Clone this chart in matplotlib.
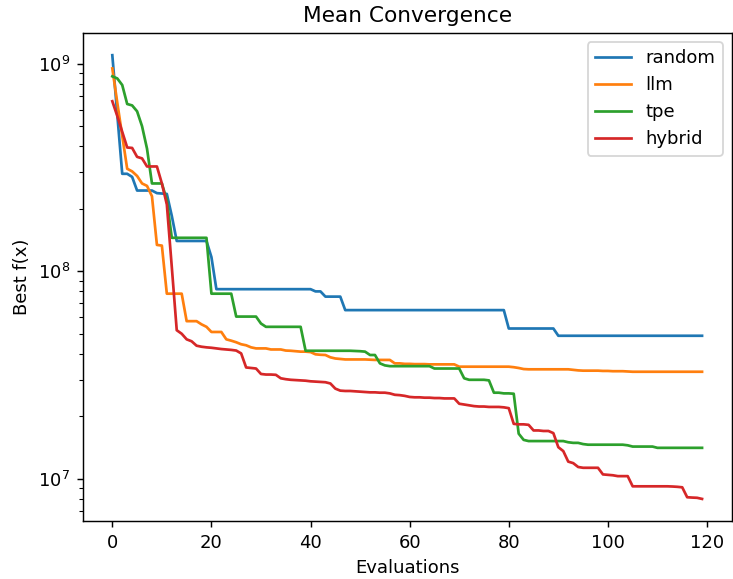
import matplotlib
matplotlib.use("Agg")
import matplotlib.pyplot as plt

# best f(x) per evaluation
random_best = [
    1.10e9, 5.7e8, 2.95e8, 2.95e8, 2.85e8, 2.45e8, 2.45e8, 2.45e8, 2.45e8, 2.38e8,
    2.37e8, 2.36e8, 1.85e8, 1.40e8, 1.40e8, 1.40e8, 1.40e8, 1.40e8, 1.40e8, 1.40e8,
    1.17e8, 8.2e7, 8.2e7, 8.2e7, 8.2e7, 8.2e7, 8.2e7, 8.2e7, 8.2e7, 8.2e7,
    8.2e7, 8.2e7, 8.2e7, 8.2e7, 8.2e7, 8.2e7, 8.2e7, 8.2e7, 8.2e7, 8.2e7,
    8.2e7, 8.0e7, 8.0e7, 7.55e7, 7.55e7, 7.55e7, 7.55e7, 6.5e7, 6.5e7, 6.5e7,
    6.5e7, 6.5e7, 6.5e7, 6.5e7, 6.5e7, 6.5e7, 6.5e7, 6.5e7, 6.5e7, 6.5e7,
    6.5e7, 6.5e7, 6.5e7, 6.5e7, 6.5e7, 6.5e7, 6.5e7, 6.5e7, 6.5e7, 6.5e7,
    6.5e7, 6.5e7, 6.5e7, 6.5e7, 6.5e7, 6.5e7, 6.5e7, 6.5e7, 6.5e7, 6.5e7,
    5.3e7, 5.3e7, 5.3e7, 5.3e7, 5.3e7, 5.3e7, 5.3e7, 5.3e7, 5.3e7, 5.3e7,
    4.89e7, 4.89e7, 4.89e7, 4.89e7, 4.89e7, 4.89e7, 4.89e7, 4.89e7, 4.89e7, 4.89e7,
    4.89e7, 4.89e7, 4.89e7, 4.89e7, 4.89e7, 4.89e7, 4.89e7, 4.89e7, 4.89e7, 4.89e7,
    4.89e7, 4.89e7, 4.89e7, 4.89e7, 4.89e7, 4.89e7, 4.89e7, 4.89e7, 4.89e7, 4.89e7,
]

llm_best = [
    9.5e8, 6.5e8, 4.5e8, 3.12e8, 3.03e8, 2.88e8, 2.65e8, 2.58e8, 2.3e8, 1.34e8,
    1.33e8, 7.8e7, 7.8e7, 7.8e7, 7.8e7, 5.75e7, 5.75e7, 5.75e7, 5.55e7, 5.4e7,
    5.1e7, 5.1e7, 5.1e7, 4.7e7, 4.63e7, 4.55e7, 4.45e7, 4.4e7, 4.3e7, 4.25e7,
    4.25e7, 4.25e7, 4.2e7, 4.2e7, 4.2e7, 4.15e7, 4.14e7, 4.12e7, 4.1e7, 4.1e7,
    4.08e7, 3.98e7, 3.96e7, 3.95e7, 3.85e7, 3.8e7, 3.78e7, 3.76e7, 3.76e7, 3.76e7,
    3.76e7, 3.76e7, 3.75e7, 3.74e7, 3.74e7, 3.74e7, 3.74e7, 3.6e7, 3.6e7, 3.58e7,
    3.58e7, 3.57e7, 3.57e7, 3.57e7, 3.56e7, 3.56e7, 3.56e7, 3.56e7, 3.56e7, 3.56e7,
    3.47e7, 3.47e7, 3.47e7, 3.47e7, 3.47e7, 3.47e7, 3.47e7, 3.47e7, 3.47e7, 3.47e7,
    3.47e7, 3.45e7, 3.42e7, 3.38e7, 3.37e7, 3.37e7, 3.37e7, 3.37e7, 3.37e7, 3.37e7,
    3.37e7, 3.37e7, 3.37e7, 3.35e7, 3.33e7, 3.32e7, 3.32e7, 3.32e7, 3.32e7, 3.31e7,
    3.31e7, 3.3e7, 3.3e7, 3.3e7, 3.29e7, 3.28e7, 3.28e7, 3.28e7, 3.28e7, 3.28e7,
    3.28e7, 3.28e7, 3.28e7, 3.28e7, 3.28e7, 3.28e7, 3.28e7, 3.28e7, 3.28e7, 3.28e7,
]

tpe_best = [
    8.7e8, 8.5e8, 7.9e8, 6.4e8, 6.3e8, 5.9e8, 5.0e8, 3.9e8, 2.65e8, 2.65e8,
    2.65e8, 2.2e8, 1.45e8, 1.45e8, 1.45e8, 1.45e8, 1.45e8, 1.45e8, 1.45e8, 1.45e8,
    7.8e7, 7.8e7, 7.8e7, 7.8e7, 7.8e7, 6.05e7, 6.05e7, 6.05e7, 6.05e7, 6.05e7,
    5.6e7, 5.4e7, 5.4e7, 5.4e7, 5.4e7, 5.4e7, 5.4e7, 5.4e7, 5.4e7, 4.14e7,
    4.14e7, 4.14e7, 4.14e7, 4.14e7, 4.14e7, 4.14e7, 4.14e7, 4.14e7, 4.14e7, 4.13e7,
    4.12e7, 4.1e7, 3.95e7, 3.95e7, 3.6e7, 3.52e7, 3.49e7, 3.49e7, 3.49e7, 3.49e7,
    3.49e7, 3.49e7, 3.49e7, 3.49e7, 3.49e7, 3.4e7, 3.4e7, 3.4e7, 3.4e7, 3.4e7,
    3.4e7, 3.05e7, 3.0e7, 3.0e7, 3.0e7, 3.0e7, 2.98e7, 2.6e7, 2.6e7, 2.58e7,
    2.58e7, 2.57e7, 1.65e7, 1.54e7, 1.52e7, 1.52e7, 1.52e7, 1.52e7, 1.52e7, 1.52e7,
    1.52e7, 1.52e7, 1.5e7, 1.49e7, 1.49e7, 1.47e7, 1.46e7, 1.46e7, 1.46e7, 1.46e7,
    1.46e7, 1.46e7, 1.46e7, 1.46e7, 1.45e7, 1.43e7, 1.43e7, 1.43e7, 1.43e7, 1.43e7,
    1.41e7, 1.41e7, 1.41e7, 1.41e7, 1.41e7, 1.41e7, 1.41e7, 1.41e7, 1.41e7, 1.41e7,
]

hybrid_best = [
    6.6e8, 5.6e8, 4.7e8, 3.95e8, 3.93e8, 3.56e8, 3.5e8, 3.2e8, 3.2e8, 3.2e8,
    2.65e8, 2.1e8, 1.05e8, 5.2e7, 5.0e7, 4.7e7, 4.6e7, 4.38e7, 4.33e7, 4.3e7,
    4.28e7, 4.25e7, 4.22e7, 4.2e7, 4.18e7, 4.15e7, 4.02e7, 3.44e7, 3.42e7, 3.4e7,
    3.2e7, 3.18e7, 3.18e7, 3.17e7, 3.05e7, 3.02e7, 3.0e7, 2.99e7, 2.98e7, 2.97e7,
    2.95e7, 2.94e7, 2.93e7, 2.92e7, 2.88e7, 2.72e7, 2.66e7, 2.65e7, 2.65e7, 2.64e7,
    2.63e7, 2.62e7, 2.61e7, 2.61e7, 2.6e7, 2.6e7, 2.58e7, 2.54e7, 2.53e7, 2.51e7,
    2.48e7, 2.47e7, 2.47e7, 2.46e7, 2.46e7, 2.45e7, 2.45e7, 2.44e7, 2.44e7, 2.44e7,
    2.3e7, 2.28e7, 2.26e7, 2.24e7, 2.23e7, 2.23e7, 2.22e7, 2.22e7, 2.22e7, 2.21e7,
    2.19e7, 1.84e7, 1.83e7, 1.83e7, 1.82e7, 1.71e7, 1.71e7, 1.7e7, 1.7e7, 1.66e7,
    1.42e7, 1.36e7, 1.21e7, 1.19e7, 1.14e7, 1.13e7, 1.13e7, 1.13e7, 1.13e7, 1.05e7,
    1.045e7, 1.04e7, 1.03e7, 1.03e7, 1.03e7, 9.2e6, 9.2e6, 9.2e6, 9.2e6, 9.2e6,
    9.2e6, 9.2e6, 9.2e6, 9.18e6, 9.15e6, 9.1e6, 8.15e6, 8.12e6, 8.1e6, 8.0e6,
]

series = {
    "random": random_best,
    "llm": llm_best,
    "tpe": tpe_best,
    "hybrid": hybrid_best,
}


def main():
    # 733x579 px at 130 dpi, default font sizes
    fig, ax = plt.subplots(figsize=(733 / 130, 579 / 130), dpi=130)
    fig.subplots_adjust(left=0.113, right=0.998, top=0.943, bottom=0.100)

    for name, values in series.items():
        ax.plot(range(len(values)), values, label=name)

    ax.set_yscale("log")
    ax.set_title("Mean Convergence")
    ax.set_xlabel("Evaluations")
    ax.set_ylabel("Best f(x)")
    ax.legend()

    fig.savefig("out.png", dpi=130)


if __name__ == "__main__":
    main()
